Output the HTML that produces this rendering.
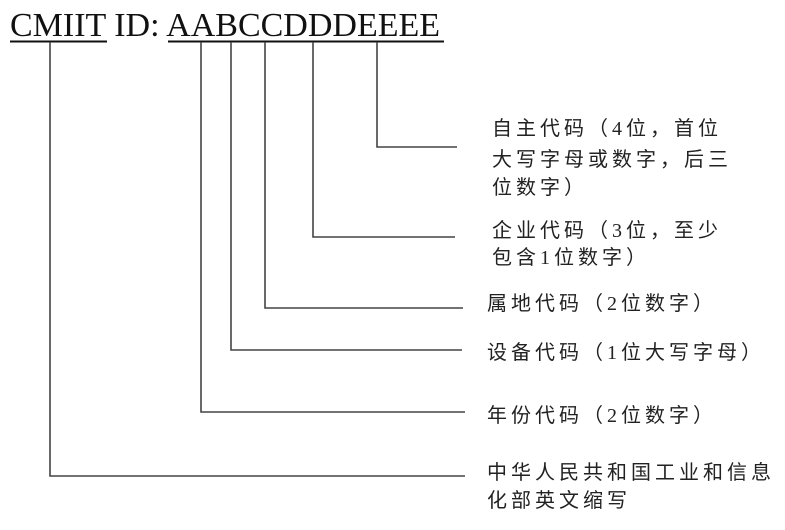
<!DOCTYPE html>
<html><head><meta charset="utf-8"><style>
html,body{margin:0;padding:0;background:#fff;}
svg{display:block;}
.t{font-family:"Liberation Serif","Noto Sans CJK SC",sans-serif;font-size:20px;fill:#222;letter-spacing:4px;}
</style></head><body>
<svg width="785" height="530" viewBox="0 0 785 530" xmlns="http://www.w3.org/2000/svg">
<text x="10" y="36" font-family="Liberation Serif, serif" font-size="34" fill="#111">CMIIT ID: AABCCDDDEEEE</text>
<g stroke="#111" stroke-width="2">
<line x1="10" y1="41.5" x2="107" y2="41.5"/>
<line x1="168" y1="41.5" x2="444" y2="41.5"/>
</g>
<g stroke="#444" stroke-width="1.6" fill="none">
<polyline points="50,42 50,476 465,476"/>
<polyline points="201,42 201,412 465,412"/>
<polyline points="231,42 231,350 462,350"/>
<polyline points="265,42 265,308 463,308"/>
<polyline points="313,42 313,237 455,237"/>
<polyline points="377,42 377,147 457,147"/>
</g>
<g class="t">
<text x="492" y="135">自主代码（4位，首位</text>
<text x="492" y="166">大写字母或数字，后三</text>
<text x="492" y="194">位数字）</text>
<text x="492" y="237">企业代码（3位，至少</text>
<text x="492" y="264">包含1位数字）</text>
<text x="487" y="310">属地代码（2位数字）</text>
<text x="487" y="359">设备代码（1位大写字母）</text>
<text x="487" y="422">年份代码（2位数字）</text>
<text x="487" y="479">中华人民共和国工业和信息</text>
<text x="487" y="507">化部英文缩写</text>
</g>
</svg>
</body></html>
